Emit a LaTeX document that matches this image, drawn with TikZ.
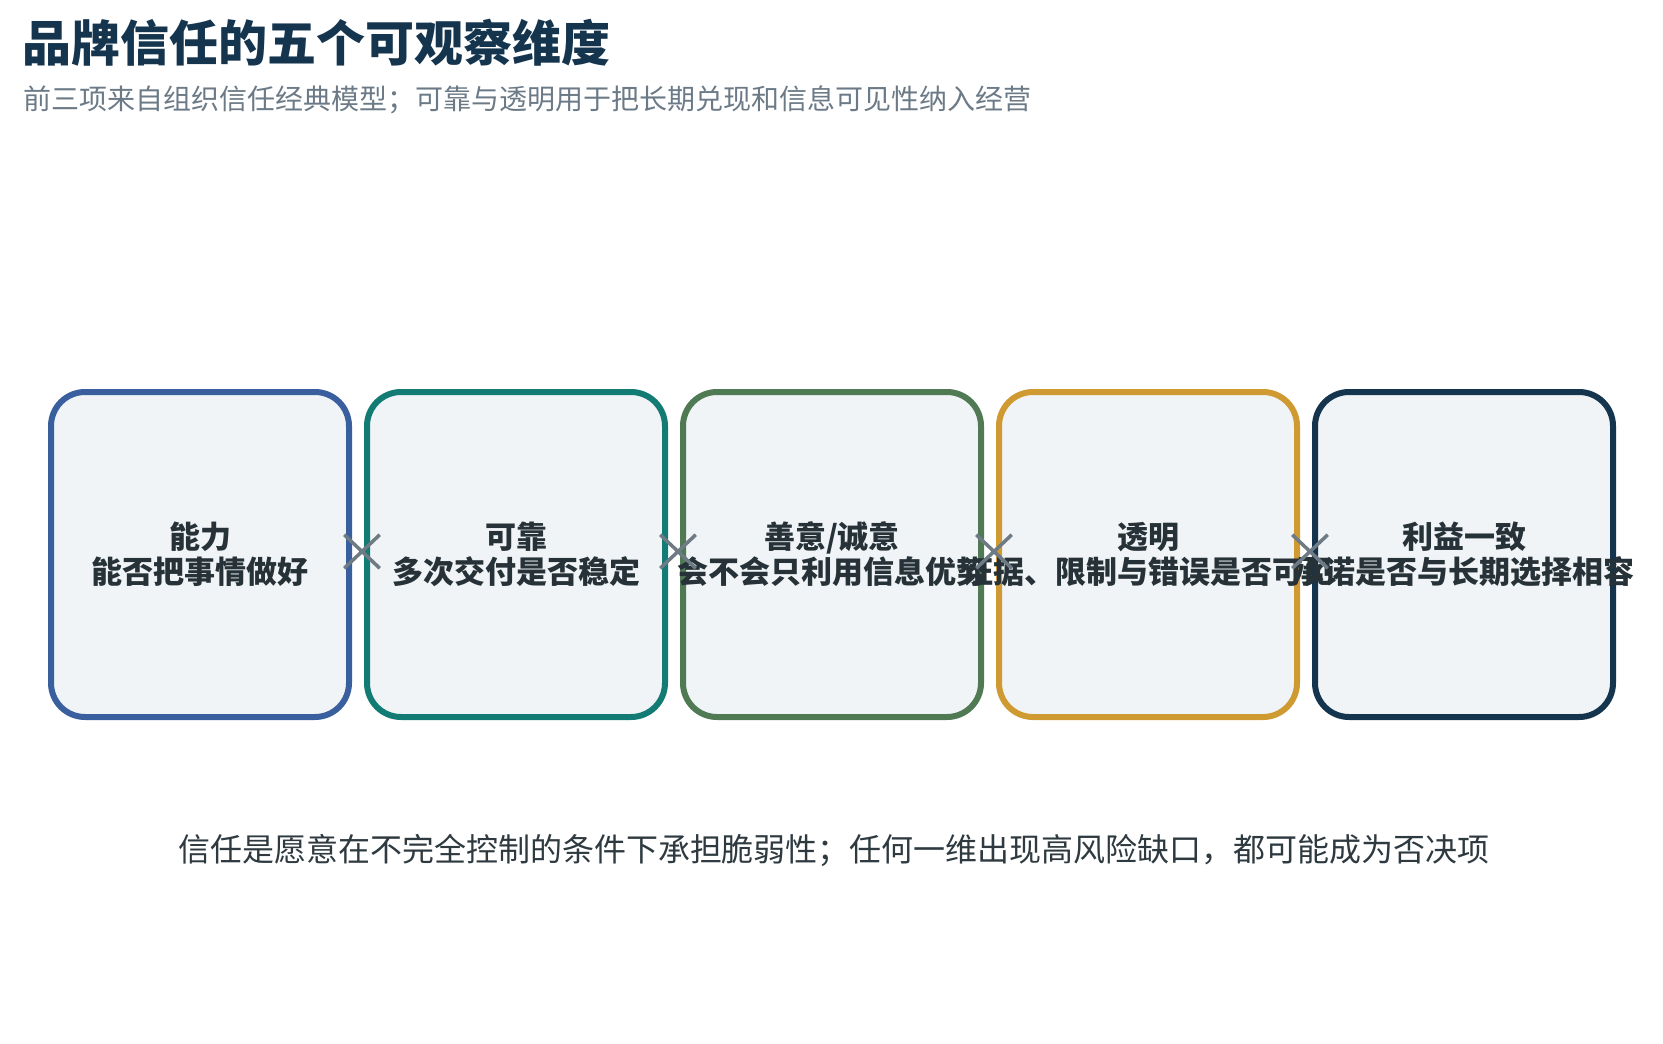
\documentclass[tikz,border=0pt]{standalone}
\usepackage{fontspec}
\setmainfont{Noto Sans CJK SC}
\usetikzlibrary{shapes.misc}
\definecolor{navy}{HTML}{15344E}
\definecolor{subgray}{HTML}{6B7A86}
\definecolor{txt}{HTML}{263238}
\definecolor{foot}{HTML}{2E3A40}
\definecolor{boxfill}{HTML}{F0F4F7}
\definecolor{cblue}{HTML}{3A5F9E}
\definecolor{cteal}{HTML}{127C74}
\definecolor{cgreen}{HTML}{4F7A53}
\definecolor{cgold}{HTML}{CF9A32}
\definecolor{cnavy}{HTML}{15344E}
\definecolor{xgray}{HTML}{6E7A84}
\tikzset{
  dimbox/.style={draw=#1, fill=boxfill, line width=6pt, rounded corners=34pt,
    minimum width=298pt, minimum height=325pt, inner sep=0pt},
  dimtext/.style={text=txt, font=\fontsize{31}{35}\selectfont\bfseries, align=center, inner sep=0pt},
  xm/.style={cross out, draw=xgray, line width=3.5pt, minimum width=32pt, minimum height=30pt, inner sep=0pt, xshift=4pt, yshift=3pt},
}
\begin{document}
\begin{tikzpicture}[x=1pt, y=-1pt]
\useasboundingbox (0,0) rectangle (1663,1044);
\node[anchor=west, inner sep=0pt, text=navy, font=\fontsize{49}{56}\selectfont\bfseries] (title) at (22,43) {品牌信任的五个可观察维度};
\node[anchor=west, inner sep=0pt, text=subgray, font=\fontsize{28}{33}\selectfont] (sub) at (23,99.5) {前三项来自组织信任经典模型；可靠与透明用于把长期兑现和信息可见性纳入经营};

\node[dimbox=cblue]  (b1) at (200,554.5) {};
\node[dimbox=cteal]  (b2) at (516,554.5) {};
\node[dimbox=cgreen] (b3) at (832,554.5) {};
\node[dimbox=cgold]  (b4) at (1148,554.5) {};
\node[dimbox=cnavy]  (b5) at (1464,554.5) {};

\node[dimtext] (t1) at (b1) {能力\\能否把事情做好};
\node[dimtext] (t2) at (b2) {可靠\\多次交付是否稳定};
\node[dimtext] (t3) at (b3) {善意/诚意\\会不会只利用信息优势};
\node[dimtext] (t4) at (b4) {透明\\证据、限制与错误是否可见};
\node[dimtext] (t5) at (b5) {利益一致\\承诺是否与长期选择相容};

\path (b1.east) -- node[xm] (x12) {} (b2.west);
\path (b2.east) -- node[xm] (x23) {} (b3.west);
\path (b3.east) -- node[xm] (x34) {} (b4.west);
\path (b4.east) -- node[xm] (x45) {} (b5.west);

\node[inner sep=0pt, text=foot, font=\fontsize{32}{38}\selectfont] (foot) at (834,850) {信任是愿意在不完全控制的条件下承担脆弱性；任何一维出现高风险缺口，都可能成为否决项};
\end{tikzpicture}
\end{document}
